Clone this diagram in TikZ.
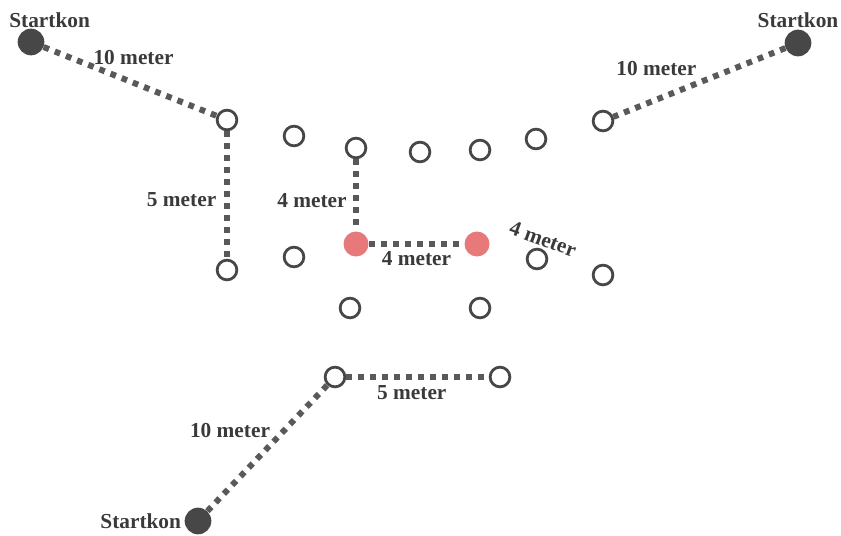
\documentclass[tikz,border=0pt]{standalone}
\usepackage{fontspec}
\setmainfont{Liberation Serif}
\usetikzlibrary{positioning}
\definecolor{kegle}{HTML}{474747}
\definecolor{prik}{HTML}{595959}
\definecolor{rod}{HTML}{E8797B}
\definecolor{skrift}{HTML}{3A3A3A}
\tikzset{
  kon/.style={circle, draw=kegle, line width=2.1pt, minimum size=14.8pt, inner sep=0pt},
  startkon/.style={circle, fill=kegle, minimum size=20pt, inner sep=0pt},
  rodkon/.style={circle, fill=rod, minimum size=18.75pt, inner sep=0pt},
  afstand/.style={draw=prik, line width=4.5pt, dash pattern=on 4.3pt off 4.7pt},
  lbl/.style={font=\bfseries\fontsize{16}{19}\selectfont, text=skrift}
}

\begin{document}
\begin{tikzpicture}[x=0.75pt, y=-0.75pt]
\useasboundingbox (0,0) rectangle (841,535);
% startkegler
\node[startkon] at (31,42) (S1) {};
\node[startkon] at (798,43) (S2) {};
\node[startkon] at (198,521) (S3) {};
\node[lbl, above=-3pt of S1, xshift=14pt] (T1) {Startkon};
\node[lbl, above=-2pt of S2] (T2) {Startkon};
\node[lbl, left=-1pt of S3] (T3) {Startkon};
% kegler
\node[kon] at (227,120) (A) {};
\node[kon] at (294,136) (B) {};
\node[kon] at (356,148) (C) {};
\node[kon] at (420,152) (D) {};
\node[kon] at (480,150) (E) {};
\node[kon] at (536,139) (F) {};
\node[kon] at (603,121) (G) {};
\node[kon] at (227,270) (H) {};
\node[kon] at (294,257) (I) {};
\node[rodkon] at (356,244) (J) {};
\node[rodkon] at (477,244) (K) {};
\node[kon] at (537,259) (L) {};
\node[kon] at (603,275) (M) {};
\node[kon] at (350,308) (N) {};
\node[kon] at (480,308) (O) {};
\node[kon] at (335,377) (P) {};
\node[kon] at (500,377) (Q) {};
% afstande
\draw[afstand] (S1) to node[lbl, pos=.52, yshift=19pt] (L1) {10 meter} (A);
\draw[afstand] (S2) to node[lbl, pos=.75, yshift=23pt] (L2) {10 meter} (G);
\draw[afstand] (A) to node[lbl, pos=.54, left=2.5pt] (L3) {5 meter} (H);
\draw[afstand] (C) to node[lbl, pos=.57, left=1.5pt] (L4) {4 meter} (J);
\draw[afstand] (J) to node[lbl, below=0pt] (L5) {4 meter} (K);
\draw[afstand] (P) to node[lbl, pos=.46, below=1pt] (L6) {5 meter} (Q);
\draw[afstand] (S3) to node[lbl, pos=.64, left=5pt] (L7) {10 meter} (P);
\node[lbl, rotate=-20] at (543,239) (L8) {4 meter};
\end{tikzpicture}
\end{document}
